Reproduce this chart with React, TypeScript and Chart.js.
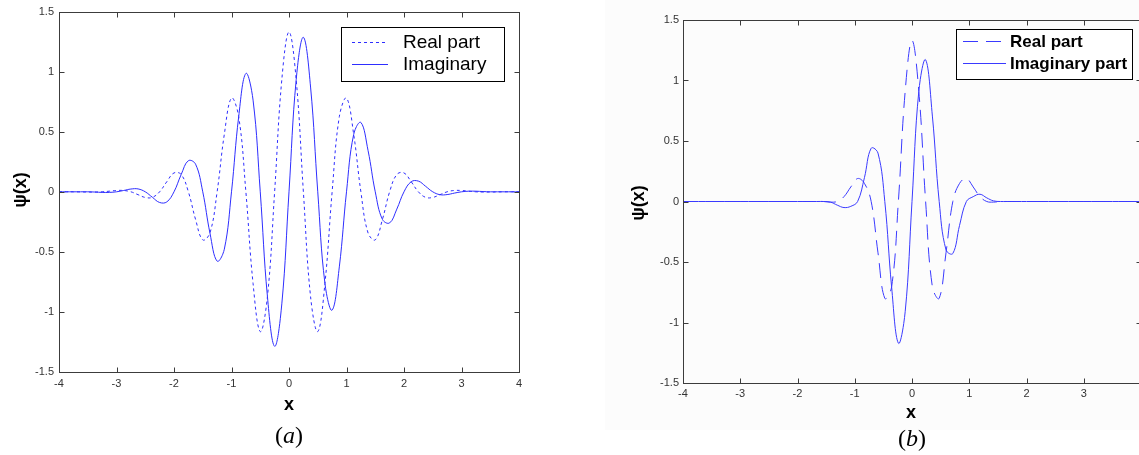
import React, { useEffect, useRef } from 'react';
import { Chart, registerables } from 'chart.js';

Chart.register(...registerables);

// ---------- data ----------
const xTicks = [-4, -3, -2, -1, 0, 1, 2, 3, 4];
const yTicks = [-1.5, -1, -0.5, 0, 0.5, 1, 1.5];

// panel (a)
const xA = [
  -4, -3.875, -3.75, -3.625, -3.5, -3.375, -3.25, -3.125, -3, -2.875, -2.75, -2.625, -2.5, -2.375, -2.25, -2.125,
  -2, -1.875, -1.75, -1.625, -1.5, -1.375, -1.25, -1.125, -1, -0.875, -0.75, -0.625, -0.5, -0.375, -0.25, -0.125,
  0,
  0.125, 0.25, 0.375, 0.5, 0.625, 0.75, 0.875, 1, 1.125, 1.25, 1.375, 1.5, 1.625, 1.75, 1.875, 2,
  2.125, 2.25, 2.375, 2.5, 2.625, 2.75, 2.875, 3, 3.125, 3.25, 3.375, 3.5, 3.625, 3.75, 3.875, 4,
];
const realA = [
  0, 0, 0, -0.001, -0.002, -0.002, 0, 0.005, 0.011, 0.011, 0, -0.024, -0.047, -0.046, 0, 0.084,
  0.157, 0.144, 0, -0.23, -0.4, -0.343, 0, 0.478, 0.78, 0.625, 0, -0.763, -1.164, -0.872, 0, 0.933,
  1.33,
  0.933, 0, -0.872, -1.164, -0.763, 0, 0.625, 0.78, 0.478, 0, -0.343, -0.4, -0.23, 0, 0.144, 0.157,
  0.084, 0, -0.046, -0.047, -0.024, 0, 0.011, 0.011, 0.005, 0, -0.002, -0.002, -0.001, 0, 0, 0,
];
const imagA = [
  0, 0, 0, 0, 0, -0.002, -0.005, -0.005, 0, 0.011, 0.023, 0.024, 0, -0.046, -0.089, -0.084,
  0, 0.144, 0.259, 0.23, 0, -0.343, -0.577, -0.478, 0, 0.625, 0.985, 0.763, 0, -0.872, -1.286, -0.933,
  0,
  0.933, 1.286, 0.872, 0, -0.763, -0.985, -0.625, 0, 0.478, 0.577, 0.343, 0, -0.23, -0.259, -0.144, 0,
  0.084, 0.089, 0.046, 0, -0.024, -0.023, -0.011, 0, 0.005, 0.005, 0.002, 0, 0, 0, 0, 0,
];
const legendA = ['Real part', 'Imaginary'];

// panel (b)
const xB = [
  -4, -3, -2, -1.663, -1.544, -1.425, -1.306, -1.188, -1.069, -0.95, -0.831, -0.713, -0.594, -0.475, -0.356, -0.238, -0.119,
  0,
  0.119, 0.238, 0.356, 0.475, 0.594, 0.713, 0.831, 0.95, 1.069, 1.188, 1.306, 1.425, 1.544, 1.663, 2, 3, 4,
];
const realB = [
  0, 0, 0, 0, 0, -0.005, 0, 0.04, 0.12, 0.19, 0.15, 0, -0.424, -0.8, -0.706, 0, 0.911,
  1.33,
  0.911, 0, -0.706, -0.8, -0.424, 0, 0.15, 0.19, 0.12, 0.04, 0, -0.005, 0, 0, 0, 0, 0,
];
const imagB = [
  0, 0, 0, 0, 0, -0.005, -0.03, -0.05, -0.04, 0, 0.197, 0.44, 0.4, 0, -0.706, -1.171, -0.911,
  0,
  0.911, 1.171, 0.706, 0, -0.4, -0.43, -0.197, 0, 0.04, 0.06, 0.03, 0.005, 0, 0, 0, 0, 0,
];
const legendB = ['Real part', 'Imaginary part'];

// ---------- drawing helpers ----------
const SANS = '"Liberation Sans", Arial, sans-serif';
const SERIF = '"Liberation Serif", "Times New Roman", serif';

const decorPlugin = {
  id: 'decor',
  afterDatasetsDraw(chart: any, _args: any, o: any) {
    const { ctx, chartArea: ca } = chart;
    const xs = chart.scales.x;
    const ys = chart.scales.y;
    ctx.save();
    // frame
    const L = Math.round(ca.left) + 0.5;
    const R = Math.round(ca.right) + 0.5;
    const T = Math.round(ca.top) + 0.5;
    const B = Math.round(ca.bottom) + 0.5;
    ctx.strokeStyle = o.axisColor;
    ctx.lineWidth = 1;
    ctx.setLineDash([]);
    ctx.strokeRect(L, T, R - L, B - T);
    const tl = o.tickLen;
    ctx.beginPath();
    for (const v of xTicks) {
      const px = Math.round(xs.getPixelForValue(v)) + 0.5;
      ctx.moveTo(px, B);
      ctx.lineTo(px, B - tl);
      ctx.moveTo(px, T);
      ctx.lineTo(px, T + tl);
    }
    for (const v of yTicks) {
      const py = Math.round(ys.getPixelForValue(v)) + 0.5;
      ctx.moveTo(L, py);
      ctx.lineTo(L + tl, py);
      ctx.moveTo(R, py);
      ctx.lineTo(R - tl, py);
    }
    ctx.stroke();

    // legend
    const lg = o.legend;
    ctx.fillStyle = '#ffffff';
    ctx.fillRect(lg.x0, lg.y0, lg.x1 - lg.x0, lg.y1 - lg.y0);
    ctx.strokeStyle = '#000000';
    ctx.strokeRect(lg.x0 + 0.5, lg.y0 + 0.5, lg.x1 - lg.x0, lg.y1 - lg.y0);
    chart.data.datasets.forEach((ds: any, i: number) => {
      const y = lg.rows[i] + 0.5;
      ctx.strokeStyle = ds.borderColor;
      ctx.lineWidth = 1;
      ctx.setLineDash(ds.borderDash || []);
      ctx.beginPath();
      ctx.moveTo(lg.lx0, y);
      ctx.lineTo(lg.lx1, y);
      ctx.stroke();
      ctx.setLineDash([]);
      ctx.fillStyle = '#000000';
      ctx.font = lg.font;
      ctx.textAlign = 'left';
      ctx.textBaseline = 'middle';
      ctx.fillText(o.labels[i], lg.tx, lg.rows[i] + 1);
    });

    // axis titles
    ctx.fillStyle = '#000000';
    ctx.font = o.titleFont;
    ctx.textAlign = 'center';
    ctx.textBaseline = 'middle';
    ctx.fillText('x', o.xTitle[0], o.xTitle[1]);
    ctx.save();
    ctx.translate(o.yTitle[0], o.yTitle[1]);
    ctx.rotate(-Math.PI / 2);
    ctx.fillText('\u03c8(x)', 0, 0);
    ctx.restore();

    // caption "(a)" / "(b)"
    const up = `24px ${SERIF}`;
    const it = `italic 24px ${SERIF}`;
    ctx.font = up;
    const wl = ctx.measureText('(').width;
    const wr = ctx.measureText(')').width;
    ctx.font = it;
    const wm = ctx.measureText(o.caption).width;
    let cx = o.capPos[0] - (wl + wm + wr) / 2;
    ctx.textAlign = 'left';
    ctx.font = up;
    ctx.fillText('(', cx, o.capPos[1]);
    cx += wl;
    ctx.font = it;
    ctx.fillText(o.caption, cx, o.capPos[1]);
    cx += wm;
    ctx.font = up;
    ctx.fillText(')', cx, o.capPos[1]);
    ctx.restore();
  },
};

type PanelCfg = {
  left: number;
  width: number;
  area: { l: number; r: number; t: number; b: number };
  x: number[];
  real: number[];
  imag: number[];
  realDash: number[];
  color: string;
  labels: string[];
  legend: any;
  xTitle: number[];
  yTitle: number[];
  capPos: number[];
  caption: string;
  xPad: number;
  yPad: number;
  hideLastX: boolean;
};

function Panel({ cfg }: { cfg: PanelCfg }) {
  const ref = useRef<HTMLCanvasElement>(null);
  useEffect(() => {
    const H = 455;
    const a = cfg.area;
    const chart = new Chart(ref.current as HTMLCanvasElement, {
      type: 'line',
      data: {
        datasets: [
          {
            label: cfg.labels[0],
            data: cfg.x.map((x, i) => ({ x, y: cfg.real[i] })),
            borderColor: cfg.color,
            borderWidth: 1,
            borderDash: cfg.realDash,
            pointRadius: 0,
            tension: 0.4,
            fill: false,
          },
          {
            label: cfg.labels[1],
            data: cfg.x.map((x, i) => ({ x, y: cfg.imag[i] })),
            borderColor: cfg.color,
            borderWidth: 1,
            pointRadius: 0,
            tension: 0.4,
            fill: false,
          },
        ],
      },
      options: {
        animation: false,
        responsive: false,
        devicePixelRatio: 1,
        layout: { padding: { left: 0, top: a.t, right: cfg.width - a.r, bottom: 0 } },
        plugins: {
          legend: { display: false },
          tooltip: { enabled: false },
          decor: {
            axisColor: '#3c3c3c',
            tickLen: 5,
            legend: cfg.legend,
            labels: cfg.labels,
            titleFont: `bold 18px ${SANS}`,
            xTitle: cfg.xTitle,
            yTitle: cfg.yTitle,
            capPos: cfg.capPos,
            caption: cfg.caption,
          },
        } as any,
        scales: {
          x: {
            type: 'linear',
            min: -4,
            max: 4,
            grid: { display: false, drawTicks: false },
            border: { display: false },
            ticks: {
              stepSize: 1,
              autoSkip: false,
              maxRotation: 0,
              padding: cfg.xPad,
              color: '#333333',
              font: { family: SANS, size: 11 },
              callback: (v: any) => (cfg.hideLastX && v === 4 ? '' : String(v)),
            },
            afterFit: (s: any) => {
              s.height = H - a.b;
            },
          },
          y: {
            type: 'linear',
            min: -1.5,
            max: 1.5,
            grid: { display: false, drawTicks: false },
            border: { display: false },
            ticks: {
              stepSize: 0.5,
              padding: cfg.yPad,
              color: '#333333',
              font: { family: SANS, size: 11 },
              callback: (v: any) => String(v),
            },
            afterFit: (s: any) => {
              s.width = a.l;
            },
          },
        },
      },
      plugins: [decorPlugin],
    });
    return () => chart.destroy();
  }, []);
  return (
    <canvas
      ref={ref}
      width={cfg.width}
      height={455}
      style={{ position: 'absolute', left: cfg.left, top: 0, width: cfg.width, height: 455 }}
    />
  );
}

const panelA: PanelCfg = {
  left: 0,
  width: 570,
  area: { l: 59, r: 519, t: 11, b: 372 },
  x: xA,
  real: realA,
  imag: imagA,
  realDash: [3, 3],
  color: '#2e2eff',
  labels: legendA,
  legend: { x0: 341, y0: 27, x1: 504, y1: 81, lx0: 352, lx1: 388, tx: 403, rows: [42, 64], font: `19px ${SANS}` },
  xTitle: [289, 405],
  yTitle: [21, 190],
  capPos: [289, 437],
  caption: 'a',
  xPad: 5,
  yPad: 5,
  hideLastX: false,
};

const panelB: PanelCfg = {
  left: 570,
  width: 580,
  area: { l: 113, r: 571, t: 20, b: 383 },
  x: xB,
  real: realB,
  imag: imagB,
  realDash: [15, 8],
  color: '#3a3aff',
  labels: legendB,
  legend: { x0: 386, y0: 29, x1: 562, y1: 79, lx0: 393, lx1: 436, tx: 440, rows: [41, 63], font: `bold 17px ${SANS}` },
  xTitle: [341, 413],
  yTitle: [69, 203],
  capPos: [342, 440],
  caption: 'b',
  xPad: 4,
  yPad: 4,
  hideLastX: true,
};

export default function App() {
  return (
    <div
      style={{
        position: 'fixed',
        left: 0,
        top: 0,
        width: 1139,
        height: 455,
        overflow: 'hidden',
        background: '#ffffff',
      }}
    >
      <div style={{ position: 'absolute', left: 605, top: 0, width: 534, height: 430, background: '#fcfcfc' }} />
      <Panel cfg={panelA} />
      <Panel cfg={panelB} />
    </div>
  );
}
